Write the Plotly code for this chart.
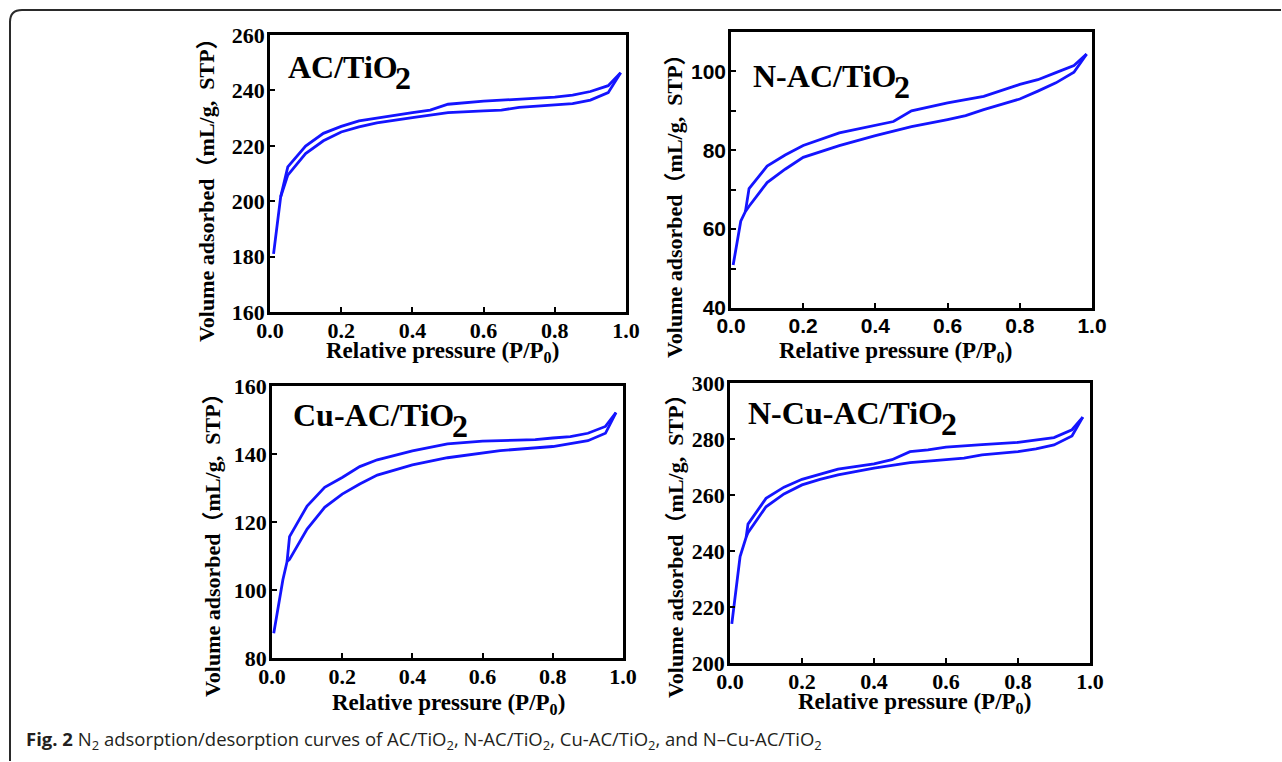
import plotly.graph_objects as go

W, H = 1282, 762

# ---------------- data ----------------
ac_ads_x = [0.01, 0.03, 0.05, 0.1, 0.15, 0.2, 0.25, 0.3, 0.4, 0.45, 0.5, 0.6, 0.65, 0.7, 0.8, 0.85, 0.9, 0.95, 0.985]
ac_ads_y = [181, 201.6, 209.4, 217.2, 221.8, 225, 226.8, 228.3, 230.2, 231.1, 232, 232.6, 232.9, 233.9, 234.8, 235.2, 236.5, 239.2, 246.4]
ac_des_x = [0.985, 0.95, 0.9, 0.85, 0.8, 0.7, 0.65, 0.6, 0.5, 0.45, 0.4, 0.3, 0.25, 0.2, 0.15, 0.1, 0.05, 0.03]
ac_des_y = [246.4, 241.7, 239.6, 238.3, 237.6, 236.9, 236.5, 236.1, 235, 232.9, 232, 230, 229, 227, 224.5, 219.9, 212.4, 201.6]

nac_ads_x = [0.006, 0.015, 0.027, 0.04, 0.05, 0.1, 0.15, 0.2, 0.3, 0.4, 0.45, 0.5, 0.6, 0.65, 0.7, 0.8, 0.85, 0.9, 0.95, 0.985]
nac_ads_y = [50.9, 56, 62, 64.5, 65.8, 71.8, 75.2, 78.2, 81.2, 83.7, 84.8, 86, 87.8, 88.8, 90.3, 93, 95, 97.1, 99.8, 104.4]
nac_des_x = [0.985, 0.95, 0.9, 0.85, 0.8, 0.7, 0.6, 0.5, 0.45, 0.4, 0.3, 0.2, 0.15, 0.1, 0.05, 0.04]
nac_des_y = [104.4, 101.5, 99.7, 97.9, 96.7, 93.7, 92, 90, 87.3, 86.3, 84.4, 81.2, 78.8, 76, 70.3, 64.5]

cu_ads_x = [0.005, 0.019, 0.031, 0.043, 0.05, 0.1, 0.15, 0.2, 0.25, 0.3, 0.4, 0.5, 0.6, 0.65, 0.7, 0.8, 0.9, 0.95, 0.98]
cu_ads_y = [87.3, 96.1, 103, 108.4, 109, 117.9, 124.3, 128.2, 131.2, 133.8, 136.8, 138.9, 140.2, 141, 141.4, 142.2, 143.9, 146.1, 152.2]
cu_des_x = [0.98, 0.95, 0.9, 0.85, 0.8, 0.75, 0.7, 0.6, 0.5, 0.4, 0.3, 0.25, 0.2, 0.15, 0.1, 0.05, 0.043]
cu_des_y = [152.2, 148.1, 146.1, 145.1, 144.7, 144.2, 144.1, 143.8, 143, 140.9, 138.3, 136.3, 133.1, 130.2, 124.7, 115.7, 108.4]

ncu_ads_x = [0.005, 0.014, 0.028, 0.045, 0.05, 0.1, 0.15, 0.2, 0.25, 0.3, 0.4, 0.5, 0.6, 0.65, 0.7, 0.8, 0.85, 0.9, 0.95, 0.98]
ncu_ads_y = [214, 223.6, 238, 245, 246.5, 255.8, 260.4, 263.6, 265.6, 267.2, 269.6, 271.6, 272.6, 273.2, 274.3, 275.5, 276.5, 277.9, 281.1, 287.8]
ncu_des_x = [0.98, 0.95, 0.9, 0.85, 0.8, 0.7, 0.6, 0.55, 0.5, 0.45, 0.4, 0.3, 0.25, 0.2, 0.15, 0.1, 0.05, 0.045]
ncu_des_y = [287.8, 283.3, 280.5, 279.7, 278.8, 278, 277.1, 276.1, 275.5, 272.6, 271.1, 269.2, 267.5, 265.6, 262.8, 258.8, 249.6, 245]

x_ticks = [0.0, 0.2, 0.4, 0.6, 0.8, 1.0]
x_ticktext = ["0.0", "0.2", "0.4", "0.6", "0.8", "1.0"]

panel_names = ["AC/TiO", "N-AC/TiO", "Cu-AC/TiO", "N-Cu-AC/TiO"]
y_ranges = [[160, 260], [40, 110], [80, 160], [200, 300]]
y_ticks = [[160, 180, 200, 220, 240, 260], [40, 60, 80, 100], [80, 100, 120, 140, 160], [200, 220, 240, 260, 280, 300]]

caption = ("<b>Fig. 2</b> N<sub>2</sub> adsorption/desorption curves of AC/TiO<sub>2</sub>, "
           "N-AC/TiO<sub>2</sub>, Cu-AC/TiO<sub>2</sub>, and N–Cu-AC/TiO<sub>2</sub>")

# ---------------- layout geometry (pixels) ----------------
boxes = [(270, 626, 35, 312), (731, 1092, 32, 308), (272, 623, 386, 658), (730, 1090, 383, 663)]
SERIF = "Liberation Serif, Times New Roman, serif"
SANS = "Liberation Sans, Arial, sans-serif"
tick_fonts = [SERIF, SANS, SERIF, SERIF]

ADV = {"A": 722, "C": 722, "/": 278, "T": 667, "i": 278, "O": 778, "N": 722, "-": 333, "u": 556}
LABEL_SIZE = 32


def text_width(s, size):
    return sum(ADV[c] for c in s) * size / 1000.0


def px(x):
    return x / W


def py(y):
    return 1 - y / H


BLUE = "#1414ff"
fig = go.Figure()
series = [(ac_ads_x, ac_ads_y, ac_des_x, ac_des_y),
          (nac_ads_x, nac_ads_y, nac_des_x, nac_des_y),
          (cu_ads_x, cu_ads_y, cu_des_x, cu_des_y),
          (ncu_ads_x, ncu_ads_y, ncu_des_x, ncu_des_y)]

layout = dict(width=W, height=H, margin=dict(l=0, r=0, t=0, b=0, autoexpand=False), autosize=False,
              paper_bgcolor="white", plot_bgcolor="white", showlegend=False)

for i, (ax, ay, dx, dy) in enumerate(series):
    n = "" if i == 0 else str(i + 1)
    for xs, ys in ((ax, ay), (dx, dy)):
        fig.add_trace(go.Scatter(x=xs, y=ys, mode="lines", xaxis="x" + n, yaxis="y" + n,
                                 line=dict(color=BLUE, width=2.8), hoverinfo="skip"))
    l, r, t, b = boxes[i]
    tf = dict(family=tick_fonts[i], size=22 if tick_fonts[i] == SERIF else 21, color="black", weight="bold")
    layout["xaxis" + n] = dict(domain=[px(l), px(r)], range=[0, 1.0], anchor="y" + n,
                               tickvals=x_ticks, ticktext=x_ticktext, ticks="inside", ticklen=5,
                               tickwidth=2, tickcolor="black", showline=True, linecolor="black",
                               linewidth=2.5, mirror=True, showgrid=False, zeroline=False,
                               tickfont=tf, ticklabelstandoff=-3, automargin=False)
    yax = dict(domain=[py(b), py(t)], range=y_ranges[i], anchor="x" + n,
               tickvals=y_ticks[i], ticks="inside", ticklen=5, tickwidth=2, tickcolor="black",
               showline=True, linecolor="black", linewidth=2.5, mirror=True, showgrid=False,
               zeroline=False, tickfont=tf, ticklabelstandoff=-2, automargin=False)
    if i == 1:
        yax["minor"] = dict(tickvals=[50, 70, 90], ticks="inside", ticklen=5, tickwidth=2, tickcolor="black")
    layout["yaxis" + n] = yax

annotations = []
xt_pos = [(442, 352), (895, 352), (448, 704), (914, 703)]
yt_pos = [(207, 185), (675, 201), (212, 540), (675, 541)]
for (x, y) in xt_pos:
    annotations.append(dict(x=px(x), y=py(y), xref="paper", yref="paper", xanchor="center", yanchor="middle",
                            text="Relative pressure (P/P<sub>0</sub>)", showarrow=False,
                            font=dict(family=SERIF, size=23, color="black", weight="bold")))
for (x, y) in yt_pos:
    annotations.append(dict(x=px(x), y=py(y), xref="paper", yref="paper", xanchor="center", yanchor="middle",
                            text="Volume adsorbed（mL/g,  STP）", showarrow=False, textangle=-90,
                            font=dict(family=SERIF + ", Noto Sans CJK SC", size=22, color="black", weight="bold")))

label_pos = [(286, 67), (751, 76), (291, 415), (746, 413)]
for name, (x, y) in zip(panel_names, label_pos):
    annotations.append(dict(x=px(x), y=py(y), xref="paper", yref="paper", xanchor="left", yanchor="middle",
                            text=name, showarrow=False,
                            font=dict(family=SERIF, size=LABEL_SIZE, color="black", weight="bold")))
    annotations.append(dict(x=px(x + text_width(name, LABEL_SIZE) - 3), y=py(y + 11), xref="paper", yref="paper",
                            xanchor="left", yanchor="middle", text="2", showarrow=False,
                            font=dict(family=SERIF, size=LABEL_SIZE, color="black", weight="bold")))

annotations.append(dict(x=px(24), y=py(740), xref="paper", yref="paper", xanchor="left", yanchor="middle",
                        text=caption, showarrow=False,
                        font=dict(family="Open Sans, Noto Sans, sans-serif", size=18.5, color="#231f20")))
layout["annotations"] = annotations

x0, y0, rr = px(10), py(10), 12
frame_path = (f"M {x0},{py(761)} L {x0},{py(10 + rr)} Q {x0},{y0} {px(10 + rr)},{y0} L {px(1281)},{y0}")
layout["shapes"] = [dict(type="path", xref="paper", yref="paper", path=frame_path,
                         line=dict(color="#2a2a2a", width=2))]

fig.update_layout(**layout)
fig.write_html("out.html", post_script="document.body.style.margin='0px';document.body.style.overflow='hidden';")
